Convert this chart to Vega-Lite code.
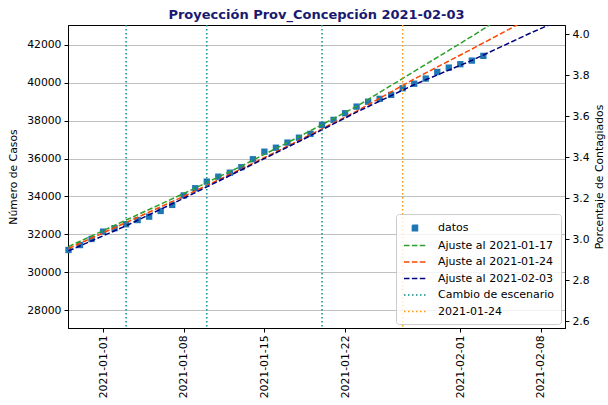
{
  "$schema": "https://vega.github.io/schema/vega-lite/v6.json",
  "width": 497,
  "height": 303,
  "autosize": {"type": "none"},
  "padding": {"left": 68, "top": 25, "right": 43, "bottom": 77},
  "background": "white",
  "config": {
    "font": "DejaVu Sans",
    "view": {"stroke": "black", "strokeWidth": 1},
    "axis": {
      "labelFont": "DejaVu Sans", "labelFontSize": 10.8, "labelColor": "#000",
      "titleFont": "DejaVu Sans", "titleFontSize": 10.8, "titleFontWeight": "normal", "titleColor": "#000",
      "domainColor": "#000", "tickColor": "#000", "tickSize": 4, "labelPadding": 3,
      "gridColor": "#b0b0b0", "gridWidth": 0.8
    },
    "legend": {
      "orient": "bottom-right", "offset": 4,
      "fillColor": "rgba(255,255,255,0.8)", "strokeColor": "#cccccc", "cornerRadius": 3, "padding": 7,
      "labelFont": "DejaVu Sans", "labelFontSize": 11, "labelColor": "#000", "labelLimit": 300,
      "symbolSize": 144, "rowPadding": 4.5, "labelOffset": 21, "symbolStrokeWidth": 1.5, "symbolOpacity": 1
    }
  },
  "title": {"text": "Proyección Prov_Concepción 2021-02-03", "fontSize": 13, "fontWeight": "bold", "color": "#191970", "font": "DejaVu Sans", "offset": 2},
  "datasets": {
    "datos": [
      {"fecha": "2020-12-29", "casos": 31170, "serie": "datos"},
      {"fecha": "2020-12-30", "casos": 31430, "serie": "datos"},
      {"fecha": "2020-12-31", "casos": 31750, "serie": "datos"},
      {"fecha": "2021-01-01", "casos": 32140, "serie": "datos"},
      {"fecha": "2021-01-02", "casos": 32320, "serie": "datos"},
      {"fecha": "2021-01-03", "casos": 32530, "serie": "datos"},
      {"fecha": "2021-01-04", "casos": 32750, "serie": "datos"},
      {"fecha": "2021-01-05", "casos": 32930, "serie": "datos"},
      {"fecha": "2021-01-06", "casos": 33230, "serie": "datos"},
      {"fecha": "2021-01-07", "casos": 33550, "serie": "datos"},
      {"fecha": "2021-01-08", "casos": 34050, "serie": "datos"},
      {"fecha": "2021-01-09", "casos": 34430, "serie": "datos"},
      {"fecha": "2021-01-10", "casos": 34780, "serie": "datos"},
      {"fecha": "2021-01-11", "casos": 35040, "serie": "datos"},
      {"fecha": "2021-01-12", "casos": 35250, "serie": "datos"},
      {"fecha": "2021-01-13", "casos": 35540, "serie": "datos"},
      {"fecha": "2021-01-14", "casos": 35960, "serie": "datos"},
      {"fecha": "2021-01-15", "casos": 36360, "serie": "datos"},
      {"fecha": "2021-01-16", "casos": 36570, "serie": "datos"},
      {"fecha": "2021-01-17", "casos": 36840, "serie": "datos"},
      {"fecha": "2021-01-18", "casos": 37100, "serie": "datos"},
      {"fecha": "2021-01-19", "casos": 37300, "serie": "datos"},
      {"fecha": "2021-01-20", "casos": 37770, "serie": "datos"},
      {"fecha": "2021-01-21", "casos": 38040, "serie": "datos"},
      {"fecha": "2021-01-22", "casos": 38390, "serie": "datos"},
      {"fecha": "2021-01-23", "casos": 38740, "serie": "datos"},
      {"fecha": "2021-01-24", "casos": 39000, "serie": "datos"},
      {"fecha": "2021-01-25", "casos": 39150, "serie": "datos"},
      {"fecha": "2021-01-26", "casos": 39360, "serie": "datos"},
      {"fecha": "2021-01-27", "casos": 39710, "serie": "datos"},
      {"fecha": "2021-01-28", "casos": 39950, "serie": "datos"},
      {"fecha": "2021-01-29", "casos": 40220, "serie": "datos"},
      {"fecha": "2021-01-30", "casos": 40570, "serie": "datos"},
      {"fecha": "2021-01-31", "casos": 40800, "serie": "datos"},
      {"fecha": "2021-02-01", "casos": 40980, "serie": "datos"},
      {"fecha": "2021-02-02", "casos": 41170, "serie": "datos"},
      {"fecha": "2021-02-03", "casos": 41420, "serie": "datos"}
    ],
    "ajustes": [
      {"fecha": "2020-12-29", "casos": 31350, "serie": "Ajuste al 2021-01-17"},
      {"fecha": "2021-01-03", "casos": 32750, "serie": "Ajuste al 2021-01-17"},
      {"fecha": "2021-01-08", "casos": 34150, "serie": "Ajuste al 2021-01-17"},
      {"fecha": "2021-01-13", "casos": 35600, "serie": "Ajuste al 2021-01-17"},
      {"fecha": "2021-01-18", "casos": 37150, "serie": "Ajuste al 2021-01-17"},
      {"fecha": "2021-01-23", "casos": 38750, "serie": "Ajuste al 2021-01-17"},
      {"fecha": "2021-01-28", "casos": 40600, "serie": "Ajuste al 2021-01-17"},
      {"fecha": "2021-02-02", "casos": 42450, "serie": "Ajuste al 2021-01-17"},
      {"fecha": "2021-02-07", "casos": 44400, "serie": "Ajuste al 2021-01-17"},
      {"fecha": "2021-02-10", "casos": 45700, "serie": "Ajuste al 2021-01-17"},
      {"fecha": "2020-12-29", "casos": 31250, "serie": "Ajuste al 2021-01-24"},
      {"fecha": "2021-01-03", "casos": 32620, "serie": "Ajuste al 2021-01-24"},
      {"fecha": "2021-01-08", "casos": 34000, "serie": "Ajuste al 2021-01-24"},
      {"fecha": "2021-01-13", "casos": 35450, "serie": "Ajuste al 2021-01-24"},
      {"fecha": "2021-01-18", "casos": 36950, "serie": "Ajuste al 2021-01-24"},
      {"fecha": "2021-01-23", "casos": 38500, "serie": "Ajuste al 2021-01-24"},
      {"fecha": "2021-01-28", "casos": 40200, "serie": "Ajuste al 2021-01-24"},
      {"fecha": "2021-02-02", "casos": 41780, "serie": "Ajuste al 2021-01-24"},
      {"fecha": "2021-02-07", "casos": 43400, "serie": "Ajuste al 2021-01-24"},
      {"fecha": "2021-02-10", "casos": 44400, "serie": "Ajuste al 2021-01-24"},
      {"fecha": "2020-12-29", "casos": 31120, "serie": "Ajuste al 2021-02-03"},
      {"fecha": "2021-01-03", "casos": 32450, "serie": "Ajuste al 2021-02-03"},
      {"fecha": "2021-01-08", "casos": 33900, "serie": "Ajuste al 2021-02-03"},
      {"fecha": "2021-01-13", "casos": 35400, "serie": "Ajuste al 2021-02-03"},
      {"fecha": "2021-01-18", "casos": 36900, "serie": "Ajuste al 2021-02-03"},
      {"fecha": "2021-01-23", "casos": 38450, "serie": "Ajuste al 2021-02-03"},
      {"fecha": "2021-01-28", "casos": 39900, "serie": "Ajuste al 2021-02-03"},
      {"fecha": "2021-02-02", "casos": 41180, "serie": "Ajuste al 2021-02-03"},
      {"fecha": "2021-02-07", "casos": 42600, "serie": "Ajuste al 2021-02-03"},
      {"fecha": "2021-02-10", "casos": 43400, "serie": "Ajuste al 2021-02-03"}
    ],
    "cambios": [
      {"fecha": "2021-01-03", "serie": "Cambio de escenario"},
      {"fecha": "2021-01-10", "serie": "Cambio de escenario"},
      {"fecha": "2021-01-20", "serie": "Cambio de escenario"},
      {"fecha": "2021-01-27", "serie": "2021-01-24"}
    ],
    "leyenda": [
      {"serie": "datos"},
      {"serie": "Ajuste al 2021-01-17"},
      {"serie": "Ajuste al 2021-01-24"},
      {"serie": "Ajuste al 2021-02-03"},
      {"serie": "Cambio de escenario"},
      {"serie": "2021-01-24"}
    ],
    "porcentaje": [{"p": 2.6}, {"p": 4.0}]
  },
  "layer": [
    {
      "layer": [
        {
          "data": {"name": "datos"},
          "mark": {"type": "square", "filled": true, "size": 40, "opacity": 1},
          "encoding": {
            "x": {
              "field": "fecha", "type": "temporal",
              "scale": {"type": "utc", "domain": [{"year": 2020, "month": 12, "date": 28, "hours": 23, "utc": true}, {"year": 2021, "month": 2, "date": 10, "hours": 2, "utc": true}], "nice": false},
              "axis": {
                "title": null, "grid": false, "format": "%Y-%m-%d", "labelAngle": 270,
                "values": [
                  {"year": 2021, "month": 1, "date": 1, "utc": true},
                  {"year": 2021, "month": 1, "date": 8, "utc": true},
                  {"year": 2021, "month": 1, "date": 15, "utc": true},
                  {"year": 2021, "month": 1, "date": 22, "utc": true},
                  {"year": 2021, "month": 2, "date": 1, "utc": true},
                  {"year": 2021, "month": 2, "date": 8, "utc": true}
                ]
              }
            },
            "y": {
              "field": "casos", "type": "quantitative",
              "scale": {"domain": [27050, 43050], "nice": false, "zero": false},
              "axis": {"title": "Número de Casos", "grid": true, "format": "d", "values": [28000, 30000, 32000, 34000, 36000, 38000, 40000, 42000], "titlePadding": 8}
            },
            "color": {
              "field": "serie", "type": "nominal",
              "scale": {
                "domain": ["datos", "Ajuste al 2021-01-17", "Ajuste al 2021-01-24", "Ajuste al 2021-02-03", "Cambio de escenario", "2021-01-24", "-"],
                "range": ["#1f77b4", "#2ca02c", "#ff4500", "#000080", "#0a8f8f", "#ff9900", "#999999"]
              },
              "legend": null
            }
          }
        },
        {
          "data": {"name": "ajustes"},
          "mark": {"type": "line", "strokeDash": [5.5, 2.4], "strokeWidth": 1.5, "clip": true},
          "encoding": {
            "x": {"field": "fecha", "type": "temporal"},
            "y": {"field": "casos", "type": "quantitative"},
            "color": {"field": "serie", "type": "nominal", "legend": null},
            "detail": {"field": "serie"}
          }
        },
        {
          "data": {"name": "cambios"},
          "mark": {"type": "rule", "strokeDash": [1.5, 2.5], "strokeWidth": 1.5},
          "encoding": {
            "x": {"field": "fecha", "type": "temporal"},
            "color": {"field": "serie", "type": "nominal", "legend": null}
          }
        },
        {
          "data": {"name": "leyenda"},
          "mark": {"type": "point", "filled": true, "opacity": 0, "strokeWidth": 1.5},
          "encoding": {
            "fill": {
              "field": "serie", "type": "nominal", "title": null,
              "scale": {
                "domain": ["datos", "Ajuste al 2021-01-17", "Ajuste al 2021-01-24", "Ajuste al 2021-02-03", "Cambio de escenario", "2021-01-24"],
                "range": ["#1f77b4", "#2ca02c", "#ff4500", "#000080", "#0a8f8f", "#ff9900"]
              }
            },
            "stroke": {
              "field": "serie", "type": "nominal", "title": null,
              "scale": {
                "domain": ["datos", "Ajuste al 2021-01-17", "Ajuste al 2021-01-24", "Ajuste al 2021-02-03", "Cambio de escenario", "2021-01-24"],
                "range": ["#1f77b4", "#2ca02c", "#ff4500", "#000080", "#0a8f8f", "#ff9900"]
              }
            },
            "shape": {
              "field": "serie", "type": "nominal", "title": null,
              "scale": {
                "domain": ["datos", "Ajuste al 2021-01-17", "Ajuste al 2021-01-24", "Ajuste al 2021-02-03", "Cambio de escenario", "2021-01-24"],
                "range": ["M0.4,-0.45H1.25V0.45H0.4Z", "M-1,0H2.67", "M-1,0H2.67", "M-1,0H2.67", "M-1,0H2.67", "M-1,0H2.67"]
              }
            },
            "strokeDash": {
              "field": "serie", "type": "nominal", "title": null,
              "scale": {
                "domain": ["datos", "Ajuste al 2021-01-17", "Ajuste al 2021-01-24", "Ajuste al 2021-02-03", "Cambio de escenario", "2021-01-24"],
                "range": [[1, 0], [5.5, 2.4], [5.5, 2.4], [5.5, 2.4], [1.5, 2.5], [1.5, 2.5]]
              }
            }
          }
        }
      ]
    },
    {
      "data": {"name": "porcentaje"},
      "mark": {"type": "rule", "opacity": 0},
      "encoding": {
        "y": {
          "field": "p", "type": "quantitative",
          "scale": {"domain": [2.566, 4.044], "nice": false, "zero": false},
          "axis": {"orient": "right", "title": "Porcentaje de Contagiados", "titleAngle": 270, "titleBaseline": "middle", "titleX": 34, "grid": false, "format": ".1f", "values": [2.6, 2.8, 3.0, 3.2, 3.4, 3.6, 3.8, 4.0]}
        }
      }
    }
  ],
  "resolve": {"scale": {"y": "independent"}}
}
